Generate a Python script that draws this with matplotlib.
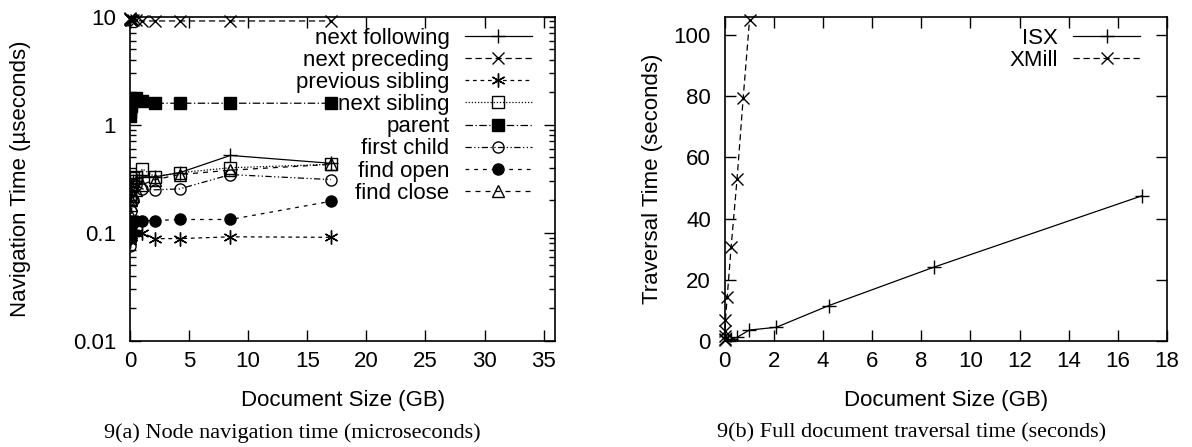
import numpy as np
import matplotlib
matplotlib.use("Agg")
import matplotlib.pyplot as plt

plt.rcParams['font.family'] = ['Liberation Sans', 'DejaVu Sans']
plt.rcParams['font.size'] = 16

# --- 9(a) node navigation time (microseconds) ---
nav_size = [0.008, 0.016, 0.033, 0.066, 0.13, 0.26, 0.53, 1.06, 2.1, 4.2, 8.5, 17]
next_following = [0.18, 0.2, 0.22, 0.24, 0.27, 0.3, 0.32, 0.33, 0.33, 0.36, 0.52, 0.44]
next_preceding = [9.6, 9.5, 9.4, 9.3, 9.3, 9.2, 9.2, 9.1, 9.1, 9.1, 9.1, 9.1]
previous_sibling = [0.085, 0.088, 0.09, 0.092, 0.095, 0.1, 0.1, 0.1, 0.0885, 0.0885, 0.092, 0.091]
next_sibling = [0.2, 0.22, 0.25, 0.28, 0.3, 0.32, 0.33, 0.39, 0.33, 0.36, 0.4, 0.43]
parent = [1.2, 1.3, 1.4, 1.5, 1.6, 1.7, 1.75, 1.67, 1.58, 1.58, 1.58, 1.58]
first_child = [0.075, 0.09, 0.1, 0.13, 0.16, 0.2, 0.28, 0.255, 0.25, 0.255, 0.346, 0.311]
find_open = [0.1, 0.105, 0.11, 0.115, 0.12, 0.125, 0.13, 0.13, 0.13, 0.133, 0.133, 0.196]
find_close = [0.11, 0.13, 0.15, 0.18, 0.2, 0.22, 0.25, 0.28, 0.31, 0.346, 0.38, 0.43]

# --- 9(b) full document traversal time (seconds) ---
isx_size = [0.016, 0.033, 0.066, 0.13, 0.25, 0.5, 1.0, 2.1, 4.24, 8.5, 17]
isx_time = [0.05, 0.1, 0.15, 0.3, 0.6, 1.2, 3.6, 4.5, 11.6, 24.1, 47.5]
xmill_size = [0.002, 0.004, 0.008, 0.016, 0.03, 0.1, 0.26, 0.5, 0.75, 1.01]
xmill_time = [0.4, 0.8, 1.6, 3.2, 6.9, 14.3, 30.7, 52.8, 79.3, 105.0]

fig = plt.figure(figsize=(11.92, 4.47), dpi=100)

ax1 = fig.add_axes([0.109, 0.237, 0.357, 0.726])
lw = 0.9
ax1.plot(nav_size, next_following, color='k', lw=lw, ls='-', marker='+', ms=10, mew=1,
         label='next following')
ax1.plot(nav_size, next_preceding, color='k', lw=lw, ls=(0, (5, 3)), marker='x', ms=8, mew=1,
         label='next preceding', clip_on=False)
ax1.plot(nav_size, previous_sibling, color='k', lw=lw, ls=(0, (3, 3)), marker=(6, 2, 0), ms=10, mew=1,
         label='previous sibling')
ax1.plot(nav_size, next_sibling, color='k', lw=lw, ls=(0, (1, 1.5)), marker='s', ms=8, mew=1,
         mfc='none', label='next sibling')
ax1.plot(nav_size, parent, color='k', lw=lw, ls=(0, (6, 2, 1, 2)), marker='s', ms=8,
         label='parent')
ax1.plot(nav_size, first_child, color='k', lw=lw, ls=(0, (5, 2, 1, 2, 1, 2)), marker='o', ms=8, mew=1,
         mfc='none', label='first child')
ax1.plot(nav_size, find_open, color='k', lw=lw, ls=(0, (3, 4)), marker='o', ms=8,
         label='find open')
ax1.plot(nav_size, find_close, color='k', lw=lw, ls=(0, (4, 4)), marker='^', ms=8, mew=1,
         mfc='none', label='find close')
ax1.set_yscale('log')
ax1.set_xlim(0, 36)
ax1.set_ylim(0.01, 10)
ax1.set_xticks([0, 5, 10, 15, 20, 25, 30, 35])
ax1.set_yticks([0.01, 0.1, 1, 10])
ax1.set_yticklabels(['0.01', '0.1', '1', '10'])
ax1.set_xlabel('Document Size (GB)')
ax1.set_ylabel('Navigation Time (\u00b5seconds)')
ax1.xaxis.set_label_coords(0.5, -0.15)
ax1.yaxis.set_label_coords(-0.232, 0.5)
ax1.legend(loc='upper right', bbox_to_anchor=(0.944, 0.965), markerfirst=False, frameon=False,
           labelspacing=0.05, handlelength=3.0, handletextpad=0.7, borderaxespad=0, borderpad=0,
           fontsize=16)

ax2 = fig.add_axes([0.608, 0.237, 0.371, 0.726])
ax2.plot(isx_size, isx_time, color='k', lw=lw, ls='-', marker='+', ms=10, mew=1, label='ISX')
ax2.plot(xmill_size, xmill_time, color='k', lw=lw, ls=(0, (5, 3)), marker='x', ms=8, mew=1,
         label='XMill', clip_on=False)
ax2.set_xlim(0, 18)
ax2.set_ylim(0, 106)
ax2.set_xticks(range(0, 19, 2))
ax2.set_yticks(range(0, 101, 20))
ax2.set_xlabel('Document Size (GB)')
ax2.set_ylabel('Traversal Time (seconds)')
ax2.xaxis.set_label_coords(0.5, -0.15)
ax2.yaxis.set_label_coords(-0.14, 0.5)
ax2.legend(loc='upper right', bbox_to_anchor=(0.939, 0.965), markerfirst=False, frameon=False,
           labelspacing=0.05, handlelength=3.0, handletextpad=0.7, borderaxespad=0, borderpad=0,
           fontsize=16)

for ax in (ax1, ax2):
    ax.tick_params(which='both', direction='in', top=True, right=True)
    ax.tick_params(axis='y', pad=10)
    ax.tick_params(axis='x', pad=7)
    ax.tick_params(which='major', length=8, width=1)
    ax.tick_params(which='minor', length=4, width=1)
    for s in ax.spines.values():
        s.set_linewidth(1.2)
ax1.tick_params(axis='x', which='minor', bottom=False, top=False)

fig.text(0.245, 0.032, '9(a) Node navigation time (microseconds)', ha='center', va='center',
         family=['Liberation Serif'], fontsize=16)
fig.text(0.765, 0.032, '9(b) Full document traversal time (seconds)', ha='center', va='center',
         family=['Liberation Serif'], fontsize=16)

fig.savefig('out.png', dpi=100)
